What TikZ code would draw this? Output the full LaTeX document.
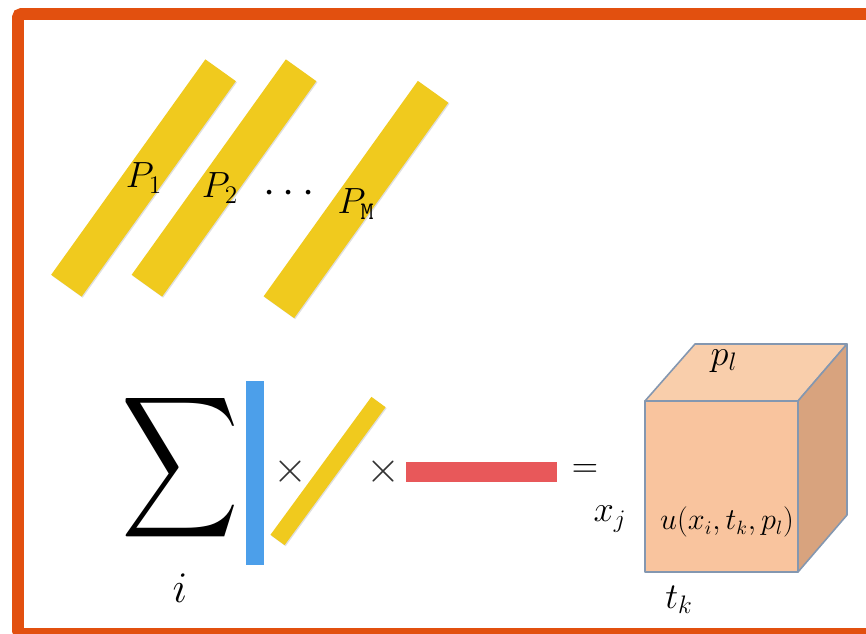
\documentclass[tikz,border=0pt]{standalone}
\usepackage{graphicx}
\usepackage{xcolor}
\definecolor{frameOrange}{HTML}{E2500F}
\definecolor{barYellow}{HTML}{F0CA1E}
\definecolor{barBlue}{HTML}{4C9FEA}
\definecolor{barRed}{HTML}{E8585A}
\definecolor{cubeFront}{HTML}{F9C49E}
\definecolor{cubeTop}{HTML}{F9CEAB}
\definecolor{cubeSide}{HTML}{D8A37E}
\definecolor{cubeEdge}{HTML}{8497B0}
\usepackage{tikz}
\usetikzlibrary{
    shadows,
    positioning,
    calc
}
\tikzset{
    % Base style for the math labels
    mathlabel/.style={
        inner sep=0pt,
        font=\fontsize{22}{26}\selectfont,
    },
    % Slanted parameter bars - yellow with a soft shadow
    pbar/.style={
        rectangle,
        fill=barYellow,
        rotate=54.4,
        minimum width=5.3cm,
        minimum height=0.75cm,
        inner sep=0pt,
        drop shadow={opacity=0.25, shadow xshift=0.6pt, shadow yshift=-0.6pt},
    },
    % Small slanted bar in the product
    pbar small/.style={
        pbar,
        rotate=-0.6,
        minimum width=3.42cm,
        minimum height=0.35cm,
    },
    % Plain coloured factor bars
    factor/.style={
        rectangle,
        inner sep=0pt,
        fill=#1,
    },
    % Cube faces
    face/.style={
        draw=cubeEdge,
        line width=0.9pt,
        line join=round,
        fill=#1,
    },
    % Multiplication signs
    times sign/.style={
        inner sep=0pt,
        text=black!80,
        font=\fontsize{28}{30}\selectfont,
    },
}

\begin{document}
\begin{tikzpicture}[x=0.02cm, y=-0.02cm]
    \useasboundingbox (0,0) rectangle (866,634);
    \clip (0,0) rectangle (866,634);
    \fill[white] (0,0) rectangle (866,634);
    \draw[frameOrange, line width=6.8pt, rounded corners=2pt] (18,14) rectangle (900,634);

    % the parameter bars
    \node (bar1) [pbar] at (143.5,178) {};
    \node (bar2) [pbar] at (224,178) {};
    \node (barM) [pbar] at (356,199.5) {};
    \node (lab1) [mathlabel] at (144,178) {$P_1$};
    \node (lab2) [mathlabel] at (220,188) {$P_2$};
    \node (dots) [mathlabel, font=\fontsize{36}{36}\selectfont] at (289,194) {$\cdots$};
    \node (labM) [mathlabel] at (356,204) {$P_{\mathtt{M}}$};

    % the sum of products
    \node (sumsign) [inner sep=0pt] at (180.5,468) {\resizebox*{67pt}{90pt}{$\displaystyle\sum$}};
    \node (index) [mathlabel, font=\fontsize{30}{34}\selectfont] at (180,588) {$i$};
    \node (xbar) [factor=barBlue, minimum width=0.36cm, minimum height=3.68cm] at (255,473) {};
    \node (times1) [times sign] at (290,472) {$\times$};
    \node (pbarsmall) [pbar small] at (328,471) {};
    \node (times2) [times sign] at (383,472) {$\times$};
    \node (tbar) [factor=barRed, minimum width=3.02cm, minimum height=0.4cm] at (481.5,472) {};
    \node (equals) [mathlabel] at (585,471) {$=$};

    % the result cube
    \draw[face=cubeTop] (645,401) -- (695,344) -- (847,344) -- (798,401) -- cycle;
    \draw[face=cubeSide] (798,401) -- (847,344) -- (847,515) -- (798,572) -- cycle;
    \draw[face=cubeFront] (645,401) rectangle (798,572);
    \node (plab) [mathlabel] at (724,361) {$p_l$};
    \node (xlab) [mathlabel] at (610,519) {$x_j$};
    \node (tlab) [mathlabel] at (679,600) {$t_k$};
    \node (ulab) [mathlabel, font=\fontsize{16}{18}\selectfont] at (727,522) {$u(x_i,t_k,p_l)$};
\end{tikzpicture}
\end{document}
